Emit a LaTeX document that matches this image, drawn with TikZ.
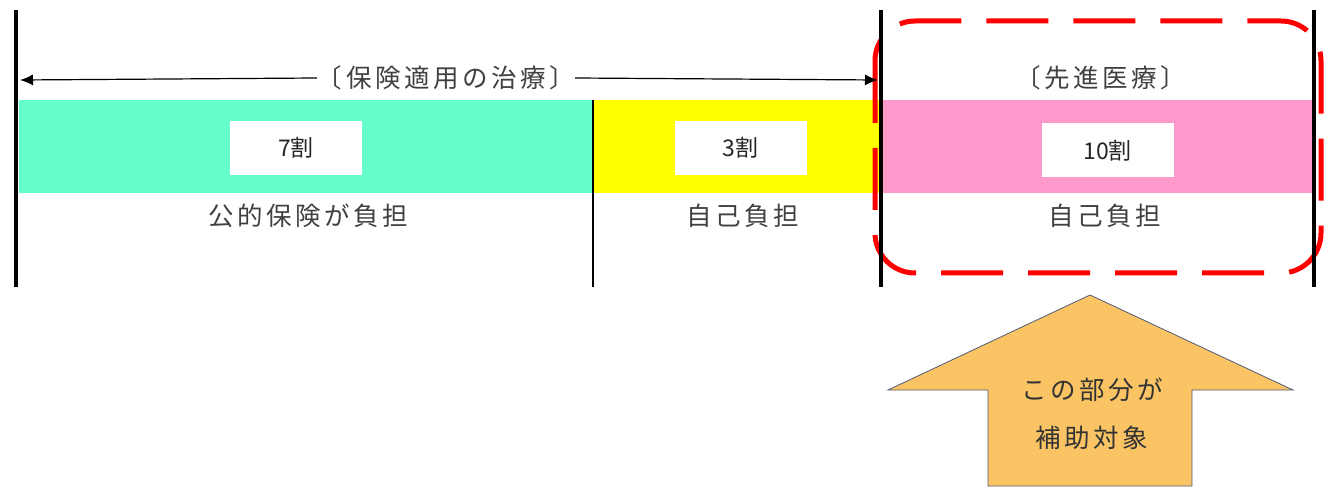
\documentclass[tikz,border=0pt]{standalone}
\usepackage{fontspec}
\newfontfamily\jp{Noto Sans CJK JP}[LetterSpace=14]
\newfontfamily\jpn{Noto Sans CJK JP}
\usetikzlibrary{arrows.meta}
\definecolor{mint}{RGB}{102,255,204}
\definecolor{yel}{RGB}{255,255,0}
\definecolor{pnk}{RGB}{255,153,204}
\definecolor{txtgray}{RGB}{64,64,64}
\definecolor{org}{RGB}{250,196,100}
\definecolor{orgline}{RGB}{80,90,120}
\begin{document}
\begin{tikzpicture}[x=1pt,y=-1pt,
  lbl/.style={font=\jp\fontsize{25.5}{30}\selectfont, text=txtgray, inner sep=0pt},
  pct/.style={fill=white, minimum width=132pt, minimum height=54pt, font=\jpn\fontsize{23}{26}\selectfont, text=black!85, inner sep=0pt},
  bar/.style={line width=3.5pt, black},
  thin/.style={line width=1.2pt, black},
  arr/.style={line width=1.2pt, black, -{Latex[length=13pt,width=11pt]}},
  reddash/.style={line width=5pt, red, dash pattern=on 62pt off 25pt, rounded corners=40pt},
  bigarrow/.style={fill=org, draw=orgline, line width=0.8pt}]
\useasboundingbox (0,0) rectangle (1326,489);
% bands
\fill[mint] (19,100) rectangle (593,193);
\fill[yel] (593,100) rectangle (881,193);
\fill[pnk] (881,100) rectangle (1312,193);
% percentage boxes
\node[pct] (p7) at (296,148) {7割};
\node[pct] (p3) at (740.5,148) {3割};
\node[pct] (p10) at (1107.5,150.5) {10割};
% labels
\node[lbl] (t1) at (308,216) {公的保険が負担};
\node[lbl] (t2) at (743,216) {自己負担};
\node[lbl] (t3) at (1105,216) {自己負担};
\node[lbl] (h1) at (446,78) {〔保険適用の治療〕};
\node[lbl] (h2) at (1101,78) {〔先進医療〕};
% red dashed box
\draw[reddash] (875,21) rectangle (1321,273);
% vertical lines
\coordinate (L0) at (16,10); \coordinate (L1) at (16,287);
\coordinate (M0) at (881,10); \coordinate (M1) at (881,287);
\coordinate (R0) at (1314,10); \coordinate (R1) at (1314,287);
\coordinate (S0) at (593,100); \coordinate (S1) at (593,287);
\draw[bar] (L0) -- (L1);
\draw[bar] (M0) -- (M1);
\draw[bar] (R0) -- (R1);
\draw[thin] (S0) -- (S1);
% span arrow
\coordinate (aL) at (20,80);
\coordinate (aR) at (878,80);
\draw[arr] (h1.west) -- (aL);
\draw[arr] (h1.east) -- (aR);
% big orange arrow
\coordinate (tip) at (1090,295);
\draw[bigarrow] (tip) -- (1293,390) -- (1192,390) -- (1192,486) -- (988,486) -- (988,390) -- (888,390) -- cycle;
\node[lbl, text=black!80] (b1) at (1092,390) {この部分が};
\node[lbl, text=black!80] (b2) at (1092,438) {補助対象};
\end{tikzpicture}
\end{document}
